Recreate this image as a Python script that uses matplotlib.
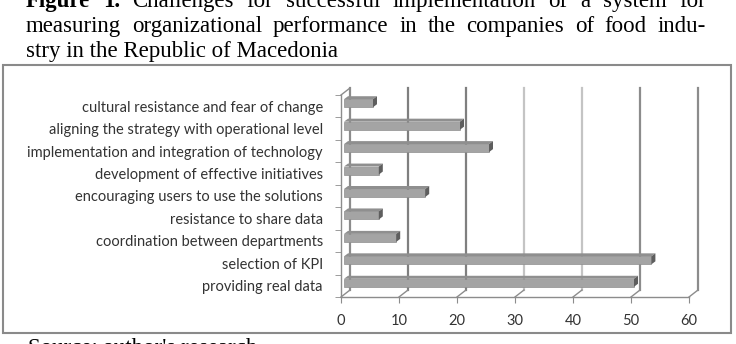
import matplotlib.pyplot as plt
import numpy as np
from matplotlib.transforms import ScaledTranslation
from matplotlib.patches import Rectangle

# challenges, top to bottom as in the chart
challenges = ['cultural resistance and fear of change',
              'aligning the strategy with operational level',
              'implementation and integration of technology',
              'development of effective initiatives',
              'encouraging users to use the solutions',
              'resistance to share data',
              'coordination between departments',
              'selection of KPI',
              'providing real data']
responses = [5, 20, 25, 6, 14, 6, 9, 53, 50]
x_ticks = [0, 10, 20, 30, 40, 50, 60]
grid_colors = ['#8c8c8c', '#7f7f7f', '#7f7f7f', '#c4c4c4', '#c4c4c4', '#8c8c8c', '#8c8c8c']

title_lines = [
    [('Figure', 'bold'), ('1.', 'bold'), ('Challenges', 'normal'), ('for', 'normal'),
     ('successful', 'normal'), ('implementation', 'normal'), ('of', 'normal'), ('a', 'normal'),
     ('system', 'normal'), ('for', 'normal')],
    [(w, 'normal') for w in 'measuring organizational performance in the companies of food indu-'.split()],
]
last_line = 'stry in the Republic of Macedonia'
source = "Source: author's research"

W, H = 736, 344
fig = plt.figure(figsize=(W / 100, H / 100), dpi=100)
serif = 'Liberation Serif'
tsize = 16.5

def px_rect(x0, y0, w, h):
    return [x0 / W, 1 - (y0 + h) / H, w / W, h / H]

# justified caption lines
renderer = fig.canvas.get_renderer()
def justify(words, x0, x1, ybase):
    texts = [fig.text(0, 1 - ybase / H, w, fontsize=tsize, family=serif, weight=wt,
                      va='baseline', ha='left') for w, wt in words]
    widths = [t.get_window_extent(renderer).width for t in texts]
    gap = (x1 - x0 - sum(widths)) / (len(words) - 1)
    x = x0
    for t, wd in zip(texts, widths):
        t.set_x(x / W)
        x += wd + gap

justify(title_lines[0], 26, 706, 7)
justify(title_lines[1], 26, 706, 32)
fig.text(26 / W, 1 - 57 / H, last_line, fontsize=tsize, family=serif, va='baseline')
fig.text(28 / W, 1 - 338 / H, source, fontsize=tsize, family=serif, va='top')

# frame around the chart
fig.add_artist(Rectangle((3 / W, 1 - 333 / H), 728 / W, 268 / H, transform=fig.transFigure,
                         fill=False, ec='#8a8a8a', lw=1.5))

# front plane of the pseudo 3D chart
ax = fig.add_axes(px_rect(341, 95, 348, 202))
ax.set_xlim(0, 60)
ax.set_ylim(-0.5, 8.5)
sx = 60 / 348   # data units per pixel
sy = 9 / 202
n = len(challenges)
ypos = np.arange(n)[::-1]

back = ax.transData + ScaledTranslation(9 / 100, 7 / 100, fig.dpi_scale_trans)
for x, c in zip(x_ticks, grid_colors):
    ax.plot([x, x], [-0.5, 8.5], transform=back, color=c, lw=1.6, clip_on=False, zorder=1)
    ax.plot([x, x + 9 * sx], [-0.5, -0.5 + 7 * sy], color='#8c8c8c', lw=1, clip_on=False, zorder=1)
ax.plot([0, 9 * sx], [8.5, 8.5 + 7 * sy], color='#8c8c8c', lw=1, clip_on=False, zorder=1)

# bars: front face, top face, end face
bx = 3 * sx
by = 3 * sy
ax.barh(ypos + by, responses, height=8 * sy, left=bx, color='#a4a4a4',
        edgecolor='#8e8e8e', lw=0.5, zorder=3)
for y, v in zip(ypos, responses):
    top = y + by + 4 * sy
    bot = y + by - 4 * sy
    ax.fill([bx, bx + v, bx + v + 4 * sx, bx + 4 * sx], [top, top, top + 3 * sy, top + 3 * sy],
            color='#8f8f8f', lw=0, zorder=3, clip_on=False)
    ax.fill([bx + v, bx + v, bx + v + 4 * sx, bx + v + 4 * sx], [bot, top, top + 3 * sy, bot + 3 * sy],
            color='#5e5e5e', lw=0, zorder=3, clip_on=False)

for s in ['top', 'right']:
    ax.spines[s].set_visible(False)
for s in ['left', 'bottom']:
    ax.spines[s].set_color('#8c8c8c')
    ax.spines[s].set_linewidth(1)

lab = dict(family='Lato', size=10.5)
ax.set_xticks(x_ticks)
ax.set_xticklabels([str(t) for t in x_ticks], **lab, color='#333333')
ax.set_yticks(ypos)
ax.set_yticklabels(challenges, **lab, color='#333333')
ax.set_yticks(np.arange(-0.5, 9, 1), minor=True)
ax.tick_params(axis='x', length=4, color='#8c8c8c', pad=8)
ax.tick_params(axis='y', which='major', length=0, pad=13)
ax.tick_params(axis='y', which='minor', length=4, color='#8c8c8c')
ax.patch.set_visible(False)

fig.savefig('out.png', dpi=100)
